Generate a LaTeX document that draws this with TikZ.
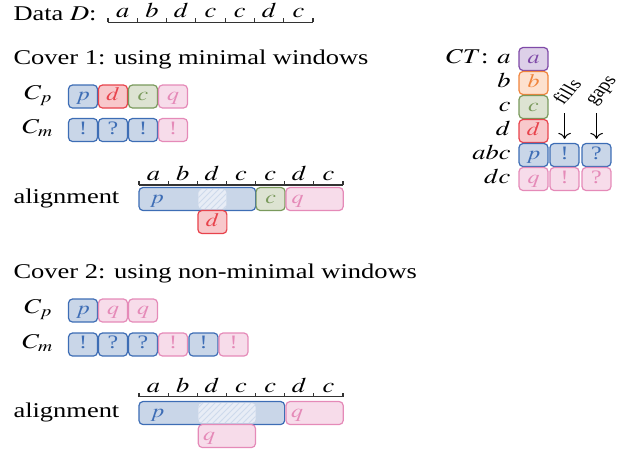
\documentclass[tikz,border=0pt]{standalone}
\usepackage{mathptmx}
\usepackage{fontspec}
\setmainfont{Liberation Serif}
\usepackage{tikz}
\usetikzlibrary{patterns}
\usetikzlibrary{arrows.meta}

\definecolor{blueline}{HTML}{3D6DB5}
\definecolor{bluefill}{HTML}{C9D6E8}
\definecolor{redline}{HTML}{E8434C}
\definecolor{redfill}{HTML}{F8C8CB}
\definecolor{greenline}{HTML}{7A9A5C}
\definecolor{greenfill}{HTML}{DDE3D2}
\definecolor{pinkline}{HTML}{E58AB8}
\definecolor{pinkfill}{HTML}{F7DCEA}
\definecolor{purpleline}{HTML}{7F4AA8}
\definecolor{purplefill}{HTML}{DDD0E8}
\definecolor{orangeline}{HTML}{F0843C}
\definecolor{orangefill}{HTML}{FDE1CF}
\definecolor{hatchfill}{HTML}{E8EDF6}

\tikzset{
  cell/.style={draw=#1line, fill=#1fill, text=#1line, rounded corners=2pt,
    line width=0.6pt, minimum width=11.5pt, minimum height=11.5pt, inner sep=0pt,
    text height=5.5pt, text depth=1.5pt, font=\fontsize{9.5}{10}\selectfont},
  bartext/.style={text=#1line, inner sep=0pt, text height=5.5pt, text depth=1.5pt,
    font=\fontsize{9.5}{10}\selectfont},
  ruler/.style={line width=0.6pt, black!80},
  hatch/.style={pattern=north east lines, pattern color=blueline!25},
  txt/.style={anchor=base west, inner sep=0pt, font=\fontsize{10.5}{12}\selectfont},
  tag/.style={rotate=55, anchor=base west, inner sep=0pt, font=\fontsize{8.5}{9}\selectfont}
}

\begin{document}
% wide layout: everything is stretched sideways by 1.26
\begin{tikzpicture}[x=0.3968pt, y=-0.5pt, xscale=1.26, every node/.append style={transform shape}]
\useasboundingbox (0,0) rectangle (628,450);

% data sequence
\node[txt] (data) at (13,20) {Data $D$:};
\draw[ruler] (108,22.3) -- (313,22.3);
\foreach \i in {0,...,7} \draw[ruler] (108+\i*29.29,22.3) -- ++(0,-4);
\foreach \l [count=\i] in {a,b,d,c,c,d,c}
  \node[txt, anchor=base] (d\i) at (108+\i*29.29-14.64,17.3) {$\l$};

% cover 1
\node[txt] (cov1) at (13,64) {Cover 1: using minimal windows};
\node[txt] (cp1) at (24,99) {$C_p$};
\node[cell=blue] (cp1a) at (83,96.5) {$p$};
\node[cell=red] (cp1b) at (113,96.5) {$d$};
\node[cell=green] (cp1c) at (143,96.5) {$c$};
\node[cell=pink] (cp1d) at (173,96.5) {$q$};
\node[txt] (cm1) at (22,133) {$C_m$};
\node[cell=blue] (cm1a) at (83,130) {!};
\node[cell=blue] (cm1b) at (113,130) {?};
\node[cell=blue] (cm1c) at (143,130) {!};
\node[cell=pink] (cm1d) at (173,130) {!};

% alignment of cover 1
\node[txt] (al1) at (13,203) {alignment};
\draw[ruler] (139,185) -- (343,185);
\foreach \i in {0,...,7} \draw[ruler] (139+\i*29.14,185) -- ++(0,-4);
\foreach \l [count=\i] in {a,b,d,c,c,d,c}
  \node[txt, anchor=base] (e\i) at (139+\i*29.14-14.57,180.7) {$\l$};
\node[cell=blue, minimum width=46.27pt] (pbar1) at (197.3,199) {};
\fill[hatchfill, rounded corners=2pt] (198.3,189) rectangle (226.4,209);
\fill[hatch, rounded corners=2pt] (198.3,189) rectangle (226.4,209);
\node[bartext=blue] (pl1) at (157,199) {$p$};
\node[cell=green] (cbar1) at (270.6,199) {$c$};
\node[cell=pink, minimum width=22.7pt] (qbar1) at (314.6,199) {};
\node[bartext=pink] (ql1) at (297.5,199) {$q$};
\node[cell=red] (dbar1) at (212.4,222) {$d$};

% cover 2
\node[txt] (cov2) at (13,278) {Cover 2: using non-minimal windows};
\node[txt] (cp2) at (24,313) {$C_p$};
\node[cell=blue] (cp2a) at (83,310.5) {$p$};
\node[cell=pink] (cp2b) at (113,310.5) {$q$};
\node[cell=pink] (cp2c) at (143,310.5) {$q$};
\node[txt] (cm2) at (22,348) {$C_m$};
\node[cell=blue] (cm2a) at (83,344.5) {!};
\node[cell=blue] (cm2b) at (113,344.5) {?};
\node[cell=blue] (cm2c) at (143,344.5) {?};
\node[cell=pink] (cm2d) at (173,344.5) {!};
\node[cell=blue] (cm2e) at (203.5,344.5) {!};
\node[cell=pink] (cm2f) at (233.5,344.5) {!};

% alignment of cover 2
\node[txt] (al2) at (13,417) {alignment};
\draw[ruler] (139,396.5) -- (343,396.5);
\foreach \i in {0,...,7} \draw[ruler] (139+\i*29.14,396.5) -- ++(0,-4);
\foreach \l [count=\i] in {a,b,d,c,c,d,c}
  \node[txt, anchor=base] (f\i) at (139+\i*29.14-14.57,392.2) {$\l$};
\node[cell=blue, minimum width=57.78pt] (pbar2) at (211.8,413) {};
\fill[hatchfill, rounded corners=2pt] (198.3,403) rectangle (255.6,423);
\fill[hatch, rounded corners=2pt] (198.3,403) rectangle (255.6,423);
\node[bartext=blue] (pl2) at (157.5,413) {$p$};
\node[cell=pink, minimum width=22.7pt] (qbar2) at (314.6,413) {};
\node[bartext=pink] (ql2) at (297,413) {$q$};
\node[cell=pink, minimum width=22.7pt] (qbar3) at (226.9,436) {};
\node[bartext=pink] (ql3) at (209,436) {$q$};

% code table
\node[txt, anchor=mid east] (ta) at (511,59) {$CT$: $a$};
\node[txt, anchor=mid east] (tb) at (511,83) {$b$};
\node[txt, anchor=mid east] (tc) at (511,107) {$c$};
\node[txt, anchor=mid east] (td) at (511,131) {$d$};
\node[txt, anchor=mid east] (tp) at (511,155) {$abc$};
\node[txt, anchor=mid east] (tq) at (511,179) {$dc$};
\node[cell=purple] (cta) at (533.5,59) {$a$};
\node[cell=orange] (ctb) at (533.5,83) {$b$};
\node[cell=green] (ctc) at (533.5,107) {$c$};
\node[cell=red] (ctd) at (533.5,131) {$d$};
\node[cell=blue] (ctp) at (533.5,155) {$p$};
\node[cell=blue] (ctpf) at (564.5,155) {!};
\node[cell=blue] (ctpg) at (596.5,155) {?};
\node[cell=pink] (ctq) at (533.5,179) {$q$};
\node[cell=pink] (ctqf) at (564.5,179) {!};
\node[cell=pink] (ctqg) at (596.5,179) {?};
\node[tag] (fills) at (563,106) {fills};
\node[tag] (gaps) at (594,106) {gaps};
\coordinate (fillstop) at (564.5,113);
\coordinate (gapstop) at (596.5,113);
\draw[-{To[length=3pt]}, line width=0.5pt] (fillstop) -- ([yshift=2pt]ctpf.north);
\draw[-{To[length=3pt]}, line width=0.5pt] (gapstop) -- ([yshift=2pt]ctpg.north);
\end{tikzpicture}
\end{document}
